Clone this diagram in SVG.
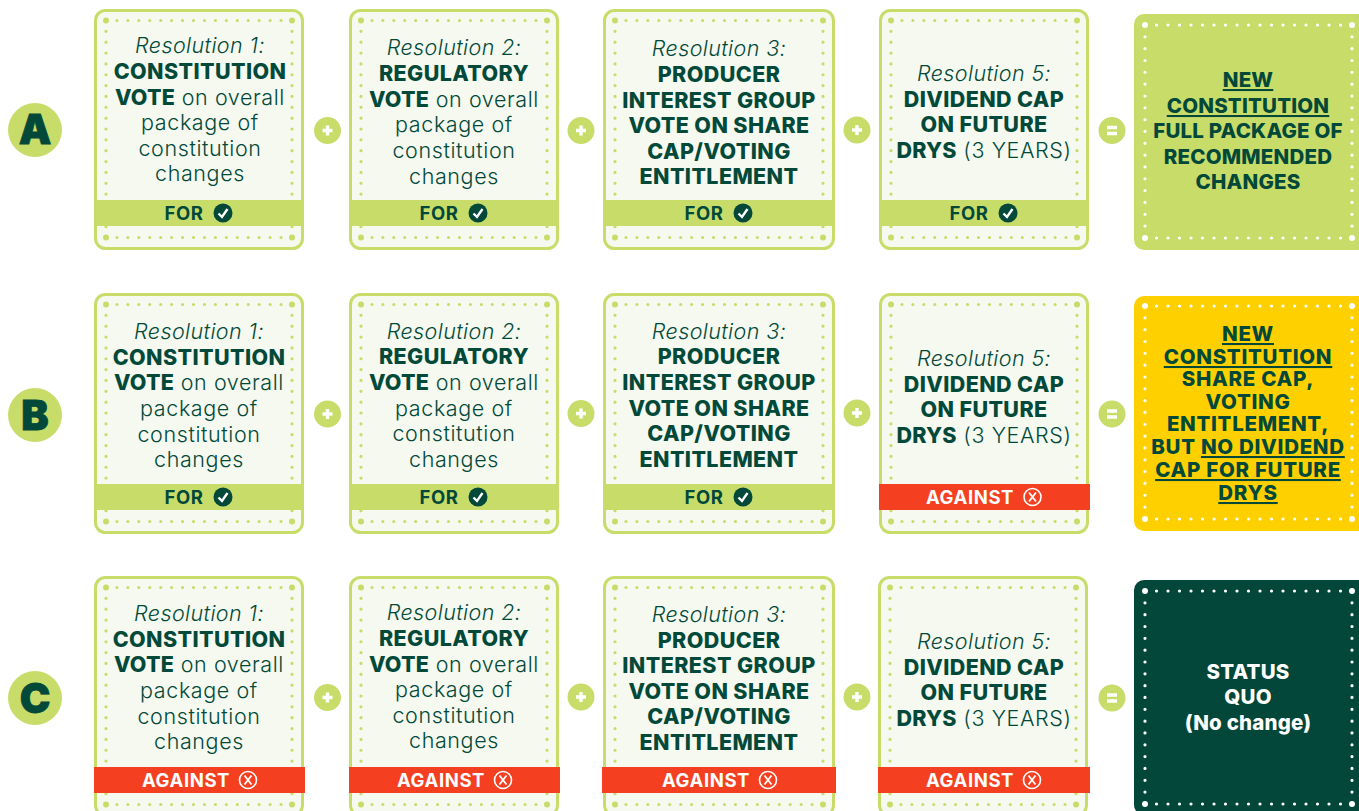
<svg xmlns="http://www.w3.org/2000/svg" width="1359" height="811" viewBox="0 0 1359 811">
<style>
text{font-family:Inter,"Liberation Sans",sans-serif;fill:#02493a;text-anchor:middle;font-size:21.5px;font-weight:400}
.i{font-style:italic;font-weight:300;letter-spacing:.4px}
.b{font-weight:800;letter-spacing:.4px}
.l{font-weight:300;letter-spacing:.6px}
.l .b{letter-spacing:.2px}
.r{font-weight:800;font-size:20.5px;letter-spacing:.2px}
.r2{font-weight:800;font-size:20.5px;letter-spacing:.7px}
.u{text-decoration:underline}
.w{fill:#fff}
.lab{font-weight:700;font-size:18.500px;letter-spacing:.6px}
.let{font-weight:900;font-size:41px;stroke:#02493a;stroke-width:.8}
.card{fill:#f5f9ef;stroke:#c8dc6a;stroke-width:3}
.dot{fill:none;stroke:#c8dc6a;stroke-width:3.2;stroke-linecap:round}
.cor{fill:#c8dc6a}
.dw{fill:none;stroke:#fff;stroke-width:3.2;stroke-linecap:round}
.h1{stroke-dasharray:0 10.94}
.h2{stroke-dasharray:0 10.95}
.hr{stroke-dasharray:0 11.5}
.v1{stroke-dasharray:0 10.85}
.vr{stroke-dasharray:0 11.83}
.for{fill:#c8dc6a}
.ag{fill:#f44021}
.op{fill:#c8dc6a}
.sym{stroke:#fff;stroke-width:3.4;fill:none}
.xc{fill:none;stroke:#fff;stroke-width:1.6}
.xl{stroke:#fff;stroke-width:1.8;fill:none}
.ck{fill:#02493a}
.cl{fill:none;stroke:#fff;stroke-width:2.4}
</style>
<defs>
<g id="f1"><rect class="card" x="1.5" y="1.5" width="207" height="238" rx="10"/><path class="dot h1" d="M12 11.500H198M12 228.500H198"/><path class="dot v1" d="M12 11.500V228.500M198 11.500V228.500"/><g class="cor"><circle cx="12" cy="11.500" r="3"/><circle cx="198" cy="11.500" r="3"/><circle cx="12" cy="228.500" r="3"/><circle cx="198" cy="228.500" r="3"/></g></g>
<g id="f2"><rect class="card" x="1.5" y="1.5" width="229" height="238" rx="10"/><path class="dot h2" d="M12 11.500H220M12 228.500H220"/><path class="dot v1" d="M12 11.500V228.500M220 11.500V228.500"/><g class="cor"><circle cx="12" cy="11.500" r="3"/><circle cx="220" cy="11.500" r="3"/><circle cx="12" cy="228.500" r="3"/><circle cx="220" cy="228.500" r="3"/></g></g>
<g id="res"><path class="dw hr" d="M11 11H218M11 224H218"/><path class="dw vr" d="M11 11V224M218 11V224"/><g fill="#fff"><circle cx="11" cy="11" r="3"/><circle cx="218" cy="11" r="3"/><circle cx="11" cy="224" r="3"/><circle cx="218" cy="224" r="3"/></g></g>
<g id="plus"><circle class="op" r="13.5"/><path class="sym" d="M-5 0H5M0-5V5"/></g>
<g id="eq"><circle class="op" r="13.5"/><path class="sym" d="M-5-3H5M-5 3H5"/></g>
<g id="chk"><circle class="ck" r="9.5"/><path class="cl" d="M-4.500 .5L-1 4L4.500-4"/></g>
<g id="xx"><circle class="xc" r="8.5"/><path class="xl" d="M-3.500-4.500L3.500 4.500M3.500-4.500L-3.500 4.500"/></g>
</defs>

<g id="connectors">
<use href="#plus" x="327.500" y="130.500"/><use href="#plus" x="581" y="130.500"/><use href="#plus" x="857" y="130"/><use href="#eq" x="1112" y="130.500"/>
<use href="#plus" x="327.500" y="414"/><use href="#plus" x="581" y="413.500"/><use href="#plus" x="857" y="413"/><use href="#eq" x="1112" y="414"/>
<use href="#plus" x="327.500" y="697.500"/><use href="#plus" x="581" y="697"/><use href="#plus" x="857" y="697"/><use href="#eq" x="1112" y="698"/>
</g>

<g id="label-a"><circle class="op" cx="35" cy="130" r="27"/><text class="let" x="35" y="144">A</text></g>
<g id="label-b"><circle class="op" cx="35" cy="415" r="27"/><text class="let" x="35" y="429.500">B</text></g>
<g id="label-c"><circle class="op" cx="35" cy="698" r="27"/><text class="let" x="35" y="712.500">C</text></g>

<g id="a1"><use href="#f1" x="94" y="9"/><text class="i" x="200" y="53">Resolution 1:</text><text class="b" x="200" y="79">CONSTITUTION</text><text x="200" y="105" class="l"><tspan class="b">VOTE</tspan> on overall</text><text class="l" x="200" y="130">package of</text><text class="l" x="200" y="156">constitution</text><text class="l" x="200" y="181">changes</text><rect class="for" x="95" y="200" width="208" height="26"/><text class="lab" x="184" y="219.500">FOR</text><use href="#chk" x="223" y="213"/></g>
<g id="a2"><use href="#f1" x="349" y="9"/><text class="i" x="454" y="55">Resolution 2:</text><text class="b" x="454" y="81">REGULATORY</text><text x="454" y="107" class="l"><tspan class="b">VOTE</tspan> on overall</text><text class="l" x="454" y="132">package of</text><text class="l" x="454" y="158">constitution</text><text class="l" x="454" y="184">changes</text><rect class="for" x="350" y="200" width="209" height="26"/><text class="lab" x="439" y="219.500">FOR</text><use href="#chk" x="478" y="213"/></g>
<g id="a3"><use href="#f2" x="603" y="9"/><text class="i" x="719" y="56">Resolution 3:</text><text class="b" x="719" y="82">PRODUCER</text><text class="b" x="719" y="108">INTEREST GROUP</text><text class="b" x="719" y="133">VOTE ON SHARE</text><text class="b" x="719" y="159">CAP/VOTING</text><text class="b" x="719" y="184">ENTITLEMENT</text><rect class="for" x="604" y="200" width="229" height="26"/><text class="lab" x="704" y="219.500">FOR</text><use href="#chk" x="743" y="213"/></g>
<g id="a4"><use href="#f1" x="879" y="9"/><text class="i" x="984" y="81">Resolution 5:</text><text class="b" x="984" y="107">DIVIDEND CAP</text><text class="b" x="984" y="132">ON FUTURE</text><text x="984" y="158" class="l"><tspan class="b">DRYS</tspan> (3 YEARS)</text><rect class="for" x="880" y="200" width="208" height="26"/><text class="lab" x="969" y="219.500">FOR</text><use href="#chk" x="1008" y="213"/></g>
<g id="a5"><rect class="for" x="1134" y="14" width="240" height="236" rx="10"/><use href="#res" x="1134" y="14"/><text class="r u" x="1248" y="87">NEW</text><text class="r u" x="1248" y="113">CONSTITUTION</text><text class="r" x="1248" y="138" letter-spacing=".8">FULL PACKAGE OF</text><text class="r" x="1248" y="164">RECOMMENDED</text><text class="r" x="1248" y="189">CHANGES</text></g>

<g id="b1"><use href="#f1" x="94" y="293"/><text class="i" x="199" y="339">Resolution 1:</text><text class="b" x="199" y="365">CONSTITUTION</text><text x="199" y="390" class="l"><tspan class="b">VOTE</tspan> on overall</text><text class="l" x="199" y="416">package of</text><text class="l" x="199" y="442">constitution</text><text class="l" x="199" y="467">changes</text><rect class="for" x="95" y="484" width="208" height="26"/><text class="lab" x="184" y="503.500">FOR</text><use href="#chk" x="223" y="497"/></g>
<g id="b2"><use href="#f1" x="349" y="293"/><text class="i" x="454" y="339">Resolution 2:</text><text class="b" x="454" y="364">REGULATORY</text><text x="454" y="390" class="l"><tspan class="b">VOTE</tspan> on overall</text><text class="l" x="454" y="416">package of</text><text class="l" x="454" y="441">constitution</text><text class="l" x="454" y="467">changes</text><rect class="for" x="350" y="484" width="209" height="26"/><text class="lab" x="439" y="503.500">FOR</text><use href="#chk" x="478" y="497"/></g>
<g id="b3"><use href="#f2" x="603" y="293"/><text class="i" x="719" y="339">Resolution 3:</text><text class="b" x="719" y="364">PRODUCER</text><text class="b" x="719" y="390">INTEREST GROUP</text><text class="b" x="719" y="416">VOTE ON SHARE</text><text class="b" x="719" y="441">CAP/VOTING</text><text class="b" x="719" y="467">ENTITLEMENT</text><rect class="for" x="604" y="484" width="229" height="26"/><text class="lab" x="704" y="503.500">FOR</text><use href="#chk" x="743" y="497"/></g>
<g id="b4"><use href="#f1" x="879" y="293"/><text class="i" x="984" y="366">Resolution 5:</text><text class="b" x="984" y="392">DIVIDEND CAP</text><text class="b" x="984" y="417">ON FUTURE</text><text x="984" y="443" class="l"><tspan class="b">DRYS</tspan> (3 YEARS)</text><rect class="ag" x="879" y="484" width="211" height="26"/><text class="lab w" x="970" y="503.500">AGAINST</text><use href="#xx" x="1032.500" y="497"/></g>
<g id="b5"><rect x="1134" y="296" width="240" height="235" rx="10" fill="#ffd000"/><use href="#res" x="1134" y="295"/><text class="r2 u" x="1248" y="341">NEW</text><text class="r2 u" x="1248" y="364">CONSTITUTION</text><text class="r2" x="1248" y="386">SHARE CAP,</text><text class="r2" x="1248" y="409">VOTING</text><text class="r2" x="1248" y="431">ENTITLEMENT,</text><text class="r2" x="1248" y="454">BUT <tspan class="u">NO DIVIDEND</tspan></text><text class="r2 u" x="1248" y="477">CAP FOR FUTURE</text><text class="r2 u" x="1248" y="500">DRYS</text></g>

<g id="c1"><use href="#f1" x="94" y="576"/><text class="i" x="199" y="621">Resolution 1:</text><text class="b" x="199" y="647">CONSTITUTION</text><text x="199" y="672" class="l"><tspan class="b">VOTE</tspan> on overall</text><text class="l" x="199" y="698">package of</text><text class="l" x="199" y="724">constitution</text><text class="l" x="199" y="749">changes</text><rect class="ag" x="94" y="767" width="211" height="26"/><text class="lab w" x="186" y="786.500">AGAINST</text><use href="#xx" x="248" y="780"/></g>
<g id="c2"><use href="#f1" x="349" y="576"/><text class="i" x="454" y="620">Resolution 2:</text><text class="b" x="454" y="646">REGULATORY</text><text x="454" y="672" class="l"><tspan class="b">VOTE</tspan> on overall</text><text class="l" x="454" y="697">package of</text><text class="l" x="454" y="723">constitution</text><text class="l" x="454" y="748">changes</text><rect class="ag" x="349" y="767" width="211" height="26"/><text class="lab w" x="441" y="786.500">AGAINST</text><use href="#xx" x="503" y="780"/></g>
<g id="c3"><use href="#f2" x="603" y="576"/><text class="i" x="719" y="622">Resolution 3:</text><text class="b" x="719" y="648">PRODUCER</text><text class="b" x="719" y="673">INTEREST GROUP</text><text class="b" x="719" y="699">VOTE ON SHARE</text><text class="b" x="719" y="724">CAP/VOTING</text><text class="b" x="719" y="750">ENTITLEMENT</text><rect class="ag" x="602" y="767" width="234" height="26"/><text class="lab w" x="706" y="786.500">AGAINST</text><use href="#xx" x="768" y="780"/></g>
<g id="c4"><use href="#f1" x="878" y="576"/><text class="i" x="984" y="649">Resolution 5:</text><text class="b" x="984" y="675">DIVIDEND CAP</text><text class="b" x="984" y="700">ON FUTURE</text><text x="984" y="726" class="l"><tspan class="b">DRYS</tspan> (3 YEARS)</text><rect class="ag" x="878" y="767" width="212" height="26"/><text class="lab w" x="970" y="786.500">AGAINST</text><use href="#xx" x="1032" y="780"/></g>
<g id="c5"><rect x="1134" y="580" width="240" height="235" rx="10" fill="#02473a"/><use href="#res" x="1134" y="580"/><text class="r w" x="1248" y="679">STATUS</text><text class="r w" x="1248" y="704">QUO</text><text class="r w" x="1248" y="730" letter-spacing="1">(No change)</text></g>
</svg>
